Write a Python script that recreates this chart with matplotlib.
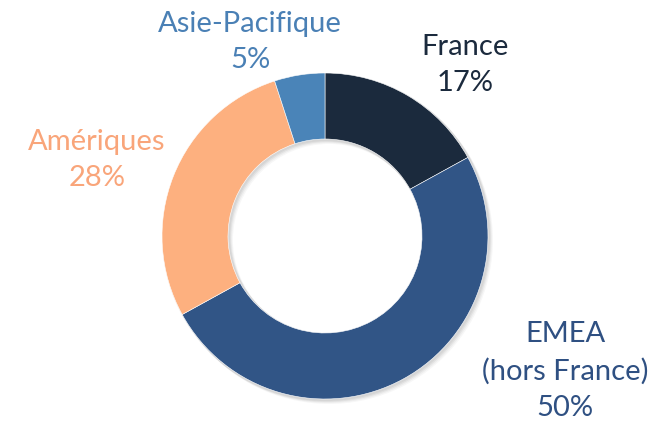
import matplotlib.pyplot as plt
from matplotlib.patches import Wedge

regions = ['France', 'EMEA\n(hors France)', 'Amériques', 'Asie-Pacifique']
shares = [17, 50, 28, 5]
colors = ['#1b2a3d', '#315586', '#fdb07f', '#4a84b8']
label_colors = ['#1b2a3d', '#2f5082', '#f9a57a', '#4a80b5']

plt.rcParams['font.family'] = ['Lato', 'DejaVu Sans']

fig = plt.figure(figsize=(6.61, 4.24), dpi=100)
ax = fig.add_axes([0, 0, 1, 1])

cx, cy = 325, 424 - 236
r_out, ring = 163, 66

# ombre légère en bas à droite
for k, a in enumerate([0.05, 0.05, 0.04, 0.03]):
    ax.add_patch(Wedge((cx + 1 + k, cy - 1 - k), r_out + 1, 0, 360,
                       width=ring + 2, facecolor='black', alpha=a,
                       edgecolor='none', zorder=1))

ax.pie(shares, colors=colors, startangle=90, counterclock=False,
       center=(cx, cy), radius=r_out, frame=True,
       wedgeprops=dict(width=ring, edgecolor='white', linewidth=0.4, zorder=2))
ax.set_xlim(0, 661)
ax.set_ylim(0, 424)
ax.set_aspect('equal')
ax.axis('off')

# positions des étiquettes (pixels de l'image)
label_pos = [(465, 65), (565, 371), (97, 160), (250, 42)]
for name, val, col, (x, y) in zip(regions, shares, label_colors, label_pos):
    ax.text(x, 424 - y, f'{name}\n{val}%', color=col, fontsize=21,
            ha='center', va='center', linespacing=1.5, zorder=3)

fig.savefig('out.png', dpi=100)
